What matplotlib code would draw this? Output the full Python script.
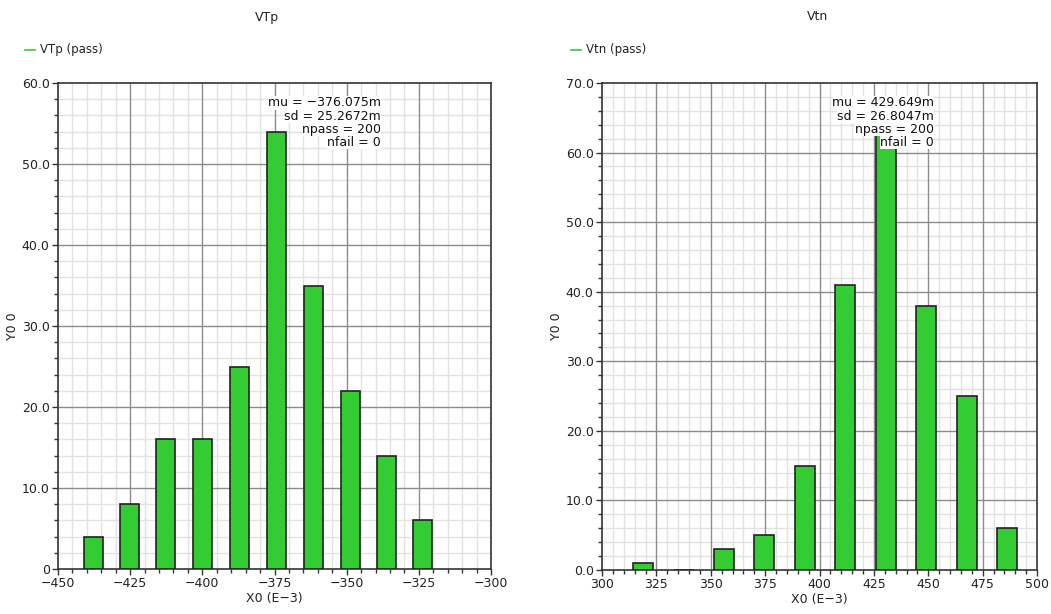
import matplotlib
matplotlib.use("Agg")
import matplotlib.pyplot as plt
from matplotlib.ticker import MultipleLocator, FixedLocator, FuncFormatter
from matplotlib.lines import Line2D

# Monte Carlo histogram data (bin centres in mV, counts per bin)
vtp_centers = [-437.7, -425.1, -412.6, -399.8, -387.0, -374.3, -361.5, -348.8, -336.2, -323.6]
vtp_counts = [4, 8, 16, 16, 25, 54, 35, 22, 14, 6]
vtp_width = 6.6
vtp_stats = ["mu = \u2212376.075m", "sd = 25.2672m", "npass = 200", "nfail = 0"]

vtn_centers = [318.9, 337.5, 356.0, 374.5, 393.2, 411.8, 430.4, 449.0, 467.6, 486.2]
vtn_counts = [1, 0, 3, 5, 15, 41, 63, 38, 25, 6]
vtn_width = 9.2
vtn_stats = ["mu = 429.649m", "sd = 26.8047m", "npass = 200", "nfail = 0"]

BAR_GREEN = "#33cc33"
FS = 9

plt.rcParams["font.family"] = ["DejaVu Sans"]
plt.rcParams["axes.unicode_minus"] = True

fig = plt.figure(figsize=(10.51, 6.14), dpi=100)
W, H = 1051, 614


def px_axes(x0, y0, x1, y1):
    return fig.add_axes([x0 / W, 1 - y1 / H, (x1 - x0) / W, (y1 - y0) / H])


def minor_positions(lo, hi, major):
    step = major / 5
    n = int(round((hi - lo) / step))
    vals = [lo + k * step for k in range(n + 1)]
    return [v for v in vals if abs(v / major - round(v / major)) > 1e-6]


def major_positions(lo, hi, major):
    n = int(round((hi - lo) / major))
    return [lo + k * major for k in range(n + 1)]


def style_axes(ax, xlim, ylim, xmajor, ymajor, yfmt):
    ax.set_xlim(*xlim)
    ax.set_ylim(*ylim)
    ax.xaxis.set_major_locator(MultipleLocator(xmajor))
    ax.xaxis.set_minor_locator(FixedLocator(minor_positions(xlim[0], xlim[1], xmajor)))
    ax.yaxis.set_major_locator(MultipleLocator(ymajor))
    ax.yaxis.set_minor_locator(FixedLocator(minor_positions(ylim[0], ylim[1], ymajor)))
    ax.xaxis.set_major_formatter(FuncFormatter(lambda v, p: f"{v:.0f}".replace("-", "\u2212")))
    ax.yaxis.set_major_formatter(FuncFormatter(yfmt))
    # light minor grid underneath, darker major grid on top of it
    ax.grid(which="minor", color="#e2e2e2", lw=1.0, linestyle="-")
    ax.set_axisbelow(True)
    for xv in major_positions(xlim[0], xlim[1], xmajor)[1:-1]:
        ax.axvline(xv, color="#8c8c8c", lw=1.0, zorder=1)
    for yv in major_positions(ylim[0], ylim[1], ymajor)[1:-1]:
        ax.axhline(yv, color="#8c8c8c", lw=1.0, zorder=1)
    ax.tick_params(which="major", direction="out", length=4, width=1, color="#333333",
                   labelsize=FS, labelcolor="#222222", pad=2)
    ax.tick_params(which="minor", direction="out", length=3, width=1, color="#333333")
    ax.tick_params(which="both", top=False, right=False)
    for s in ax.spines.values():
        s.set_color("#333333")
        s.set_linewidth(1.2)
    ax.set_xlabel("X0 (E\u22123)", fontsize=FS, color="#222222", labelpad=1)
    ax.set_ylabel("Y0 0", fontsize=FS, color="#222222", labelpad=2)


def stats_text(x_px, lines):
    for i, t in enumerate(lines):
        y_px = 103 + 13 * i
        fig.text(x_px / W, 1 - y_px / H, t, ha="right", va="center", fontsize=FS,
                 color="#111111", zorder=10,
                 bbox=dict(facecolor="white", edgecolor="none", pad=0.3))


def header(title, title_x, legend_x, label):
    fig.text(title_x / W, 1 - 17 / H, title, ha="center", va="center", fontsize=FS, color="#222222")
    y = 1 - 50 / H
    fig.add_artist(Line2D([legend_x / W, (legend_x + 10) / W], [y, y], color=BAR_GREEN, lw=1.2))
    fig.text((legend_x + 15) / W, y, label, ha="left", va="center", fontsize=FS - 0.5, color="#222222")


# Left panel: VTp
ax1 = px_axes(58, 83, 491, 569)
ax1.bar(vtp_centers, vtp_counts, width=vtp_width, color=BAR_GREEN, edgecolor="#222222",
        linewidth=1.2, zorder=3)
style_axes(ax1, (-450, -300), (0, 60), 25, 10,
           lambda v, p: "0" if v == 0 else f"{v:.1f}")
stats_text(381, vtp_stats)
header("VTp", 267, 25, "VTp (pass)")

# Right panel: Vtn
ax2 = px_axes(602, 83, 1037, 570)
ax2.bar(vtn_centers, vtn_counts, width=vtn_width, color=BAR_GREEN, edgecolor="#222222",
        linewidth=1.2, zorder=3)
style_axes(ax2, (300, 500), (0, 70), 25, 10, lambda v, p: f"{v:.1f}")
stats_text(934, vtn_stats)
header("Vtn", 818, 571, "Vtn (pass)")

fig.savefig("out.png", dpi=100, facecolor="white")
